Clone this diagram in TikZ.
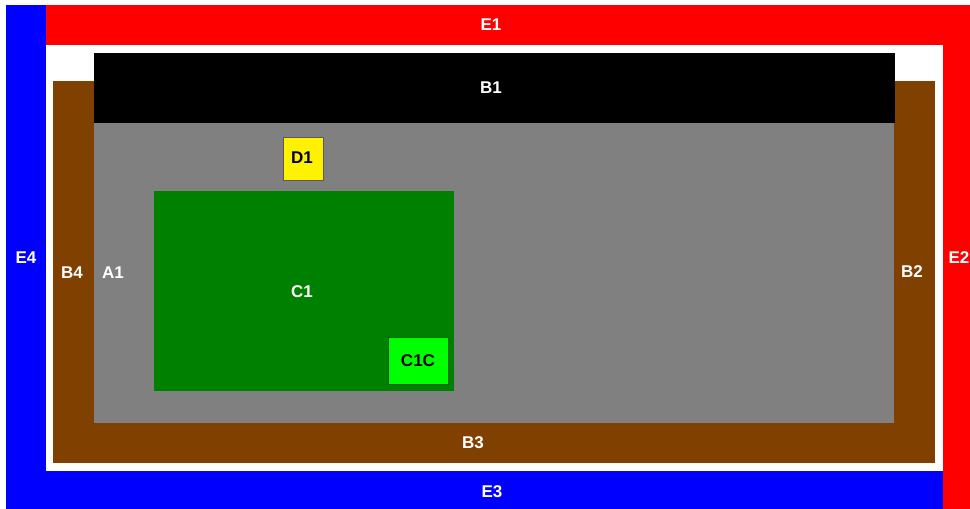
\documentclass[tikz,border=0pt]{standalone}
\usepackage{fontspec}
\setmainfont{Liberation Sans}
\definecolor{brn}{HTML}{804000}
\definecolor{grn}{HTML}{008000}
\definecolor{lime}{HTML}{00FF00}
\definecolor{gry}{HTML}{808080}
\begin{document}
\begin{tikzpicture}[x=1pt,y=-1pt,
  lbl/.style={text=white,font=\fontsize{17}{20}\selectfont\bfseries,inner sep=0pt},
  dlbl/.style={lbl,text=black}]
\useasboundingbox (0,0) rectangle (970,509);
\fill[white] (0,0) rectangle (970,509);
% E frame
\fill[blue] (6,5) rectangle (46,509);
\fill[blue] (6,471) rectangle (943,509);
\fill[red] (46,5) rectangle (970,45);
\fill[red] (943,5) rectangle (970,509);
% B frame
\fill[brn] (53,81) rectangle (935,463);
% A1
\fill[gry] (94,123) rectangle (894,423);
% B1
\fill[black] (94,53) rectangle (895,123);
% C1
\fill[grn] (154,191) rectangle (454,391);
% C1C
\draw[fill=lime,draw=grn!80!black,line width=0.8pt] (388,337) rectangle (448,384);
% D1
\draw[fill=yellow,draw=gry!70!black,line width=0.8pt] (283,137) rectangle (323,180);
% labels
\node[lbl] (e1) at (491,25) {E1};
\node[lbl] (e2) at (959,258) {E2};
\node[lbl] (e3) at (492,492) {E3};
\node[lbl] (e4) at (26,258) {E4};
\node[lbl] (b1) at (491,88) {B1};
\node[lbl] (b2) at (912,272) {B2};
\node[lbl] (b3) at (473,443) {B3};
\node[lbl] (b4) at (72,273) {B4};
\node[lbl] (a1) at (113,273) {A1};
\node[lbl] (c1) at (302,292) {C1};
\node[dlbl] (c1c) at (418,361) {C1C};
\node[dlbl] (d1) at (302,158) {D1};
\end{tikzpicture}
\end{document}
